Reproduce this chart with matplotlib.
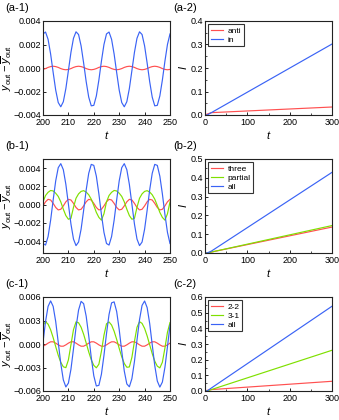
import matplotlib
matplotlib.use("Agg")
import matplotlib.pyplot as plt
from matplotlib.ticker import MultipleLocator

plt.rcParams['font.family'] = ['Liberation Sans', 'DejaVu Sans']
plt.rcParams['mathtext.fontset'] = 'custom'
plt.rcParams['mathtext.rm'] = 'Liberation Sans'
plt.rcParams['mathtext.it'] = 'Liberation Sans:italic'

# ---------------- data (values in units of 1e-3 for the time panels) ----------------
t_osc = list(range(200, 251))

a1_in = [2.90, 3.06, 2.44, 1.19, -0.38, -1.88, -2.94, -3.30, -2.87, -1.75, -0.22, 1.33, 2.53, 3.08, 2.85,
         1.88, 0.42, -1.16, -2.48, -3.22, -3.18, -2.38, -1.02, 0.58, 2.00, 2.90, 3.06, 2.44, 1.19, -0.38,
         -1.88, -2.94, -3.30, -2.87, -1.75, -0.22, 1.33, 2.53, 3.08, 2.85, 1.88, 0.42, -1.16, -2.48, -3.22,
         -3.18, -2.38, -1.02, 0.58, 2.00, 2.90]
a1_anti = [-0.12, -0.05, 0.05, 0.12, 0.15, 0.12, 0.05, -0.05, -0.12, -0.15,
           -0.12, -0.05, 0.05, 0.12, 0.15, 0.12, 0.05, -0.05, -0.12, -0.15,
           -0.12, -0.05, 0.05, 0.12, 0.15, 0.12, 0.05, -0.05, -0.12, -0.15,
           -0.12, -0.05, 0.05, 0.12, 0.15, 0.12, 0.05, -0.05, -0.12, -0.15,
           -0.12, -0.05, 0.05, 0.12, 0.15, 0.12, 0.05, -0.05, -0.12, -0.15, -0.12]

b1_all = [-4.26, -4.43, -3.50, -1.71, 0.51, 2.60, 4.05, 4.49, 3.83, 2.22, 0.05, -2.12, -3.77, -4.49, -4.10,
          -2.69, -0.62, 1.61, 3.43, 4.41, 4.30, 3.12, 1.17, -1.07, -3.04, -4.26, -4.43, -3.50, -1.71, 0.51,
          2.60, 4.05, 4.49, 3.83, 2.22, 0.05, -2.12, -3.77, -4.49, -4.10, -2.69, -0.62, 1.61, 3.43, 4.41,
          4.30, 3.12, 1.17, -1.07, -3.04, -4.26]
b1_partial = [0.30, 1.00, 1.35, 1.55, 1.50, 1.25, 0.90, 0.30, -0.50, -1.20, -1.60, -1.50, -0.30, 0.70, 1.18,
              1.45, 1.53, 1.38, 1.08, 0.60, -0.10, -0.85, -1.40, -1.70, -1.00, 0.30, 1.00, 1.35, 1.55, 1.50,
              1.25, 0.90, 0.30, -0.50, -1.20, -1.60, -1.50, -0.30, 0.70, 1.18, 1.45, 1.53, 1.38, 1.08, 0.60,
              -0.10, -0.85, -1.40, -1.70, -1.00, 0.30]
b1_three = [-0.14, 0.31, 0.58, 0.51, 0.14, -0.31, -0.58, -0.51,
            -0.14, 0.31, 0.58, 0.51, 0.14, -0.31, -0.58, -0.51,
            -0.14, 0.31, 0.58, 0.51, 0.14, -0.31, -0.58, -0.51,
            -0.14, 0.31, 0.58, 0.51, 0.14, -0.31, -0.58, -0.51,
            -0.14, 0.31, 0.58, 0.51, 0.14, -0.31, -0.58, -0.51,
            -0.14, 0.31, 0.58, 0.51, 0.14, -0.31, -0.58, -0.51,
            -0.14, 0.31, 0.58]

c1_all = [0.21, 2.87, 4.80, 5.50, 4.80, 2.87, 0.21, -2.50, -4.58, -5.48, -4.99, -3.23, -0.63, 2.12, 4.33,
          5.44, 5.15, 3.55, 1.05, -1.73, -4.06, -5.36, -5.28, -3.86, -1.45, 1.32, 3.77, 5.25, 5.38, 4.15,
          1.85, -0.92, -3.45, -5.10, -5.46, -4.42, -2.24, 0.50, 3.11, 4.93, 5.49, 4.65, 2.62, -0.08, -2.76,
          -4.73, -5.50, -4.86, -2.98, -0.35, 2.39]
c1_31 = [2.38, 2.84, 2.53, 1.82, 0.81, -0.33, -1.44, -2.34, -2.91, -3.02, -2.03, -0.10, 1.83, 2.82, 2.71,
         2.14, 1.24, 0.13, -1.01, -2.02, -2.73, -3.04, -2.58, -0.93, 1.12, 2.58, 2.81, 2.42, 1.63, 0.59,
         -0.56, -1.64, -2.49, -2.97, -2.93, -1.70, 0.32, 2.13, 2.85, 2.63, 1.99, 1.03, -0.10, -1.23, -2.19,
         -2.83, -3.05, -2.33, -0.52, 1.50, 2.73]
c1_22 = [-0.28, -0.11, 0.11, 0.28, 0.28, 0.11, -0.11, -0.28,
         -0.28, -0.11, 0.11, 0.28, 0.28, 0.11, -0.11, -0.28,
         -0.28, -0.11, 0.11, 0.28, 0.28, 0.11, -0.11, -0.28,
         -0.28, -0.11, 0.11, 0.28, 0.28, 0.11, -0.11, -0.28,
         -0.28, -0.11, 0.11, 0.28, 0.28, 0.11, -0.11, -0.28,
         -0.28, -0.11, 0.11, 0.28, 0.28, 0.11, -0.11, -0.28,
         -0.28, -0.11, 0.11]

t_I = [0, 5, 15, 300]
a2_anti = [0.0, 0.004, 0.010, 0.034]
a2_in = [0.0, 0.0, 0.010, 0.302]
b2_three = [0.0, 0.0, 0.005, 0.138]
b2_partial = [0.0, 0.0, 0.005, 0.146]
b2_all = [0.0, 0.0, 0.010, 0.429]
c2_22 = [0.0, 0.004, 0.009, 0.062]
c2_31 = [0.0, 0.0, 0.009, 0.260]
c2_all = [0.0, 0.0, 0.019, 0.541]

RED = '#ff5050'
GREEN = '#7fe000'
BLUE = '#3a63f5'

fig = plt.figure(figsize=(3.39, 4.2), dpi=100)
W, H = 339, 420

def add_ax(x0, y0, x1, y1):
    return fig.add_axes([x0 / W, 1 - y1 / H, (x1 - x0) / W, (y1 - y0) / H])

rows = [(21, 115), (159, 253), (297, 391)]
FS = 6.5

def style(ax):
    for s in ax.spines.values():
        s.set_linewidth(0.8)
        s.set_color('#222222')
    ax.tick_params(direction='in', length=2.5, width=0.6, labelsize=FS, pad=1.5)
    ax.tick_params(axis='x', pad=2.5)
    ax.tick_params(which='minor', direction='in', length=1.5, width=0.5)

ylabel = r'$y_{\mathrm{out}} - \overline{y}_{\mathrm{out}}$'
osc = [
    ('(a-1)', [(a1_anti, RED), (a1_in, BLUE)], (-4, 4), 2),
    ('(b-1)', [(b1_three, RED), (b1_partial, GREEN), (b1_all, BLUE)], (-5.3, 5.0), 2),
    ('(c-1)', [(c1_22, RED), (c1_31, GREEN), (c1_all, BLUE)], (-6, 6), 3),
]
lin = [
    ('(a-2)', [(a2_anti, RED, 'anti'), (a2_in, BLUE, 'in')], 0.4),
    ('(b-2)', [(b2_three, RED, 'three'), (b2_partial, GREEN, 'partial'), (b2_all, BLUE, 'all')], 0.5),
    ('(c-2)', [(c2_22, RED, '2-2'), (c2_31, GREEN, '3-1'), (c2_all, BLUE, 'all')], 0.6),
]

for (y0, y1), (lab, series, ylim, step) in zip(rows, osc):
    ax = add_ax(43, y0, 170, y1)
    for vals, col in series:
        ax.plot(t_osc, [v * 1e-3 for v in vals], color=col, lw=0.85)
    ax.set_xlim(200, 250)
    ax.set_ylim(ylim[0] * 1e-3, ylim[1] * 1e-3)
    ax.xaxis.set_major_locator(MultipleLocator(10))
    ax.yaxis.set_major_locator(MultipleLocator(step * 1e-3))
    ax.yaxis.set_major_formatter(matplotlib.ticker.FuncFormatter(
        lambda v, p: ('%.3f' % v).replace('-', '\u2212') if abs(v) > 1e-9 else '0.000'))
    style(ax)
    ax.set_xlabel(r'$t$', fontsize=8, labelpad=1)
    ax.set_ylabel(ylabel, fontsize=8)
    ax.yaxis.set_label_coords(-0.228, 0.5)
    fig.text(5 / W, 1 - (y0 - 13) / H, lab, fontsize=8, va='center', ha='left')

for (y0, y1), (lab, series, ymax) in zip(rows, lin):
    ax = add_ax(205, y0, 332, y1)
    for vals, col, name in series:
        ax.plot(t_I, vals, color=col, lw=0.85, label=name)
    ax.set_xlim(0, 300)
    ax.set_ylim(0, ymax)
    ax.xaxis.set_major_locator(MultipleLocator(100))
    ax.xaxis.set_minor_locator(MultipleLocator(50))
    ax.yaxis.set_major_locator(MultipleLocator(0.1))
    ax.yaxis.set_minor_locator(MultipleLocator(0.05))
    ax.yaxis.set_major_formatter(matplotlib.ticker.FormatStrFormatter('%.1f'))
    style(ax)
    ax.set_xlabel(r'$t$', fontsize=8, labelpad=1)
    ax.set_ylabel(r'$I$', fontsize=8)
    ax.yaxis.set_label_coords(-0.126, 0.5)
    leg = ax.legend(loc='upper left', fontsize=6, frameon=True, fancybox=False,
                    handlelength=1.5, handletextpad=0.5, borderpad=0.3, labelspacing=0.15,
                    borderaxespad=0.4)
    leg.get_frame().set_edgecolor('black')
    leg.get_frame().set_linewidth(0.8)
    fig.text(173 / W, 1 - (y0 - 13) / H, lab, fontsize=8, va='center', ha='left')

fig.savefig('out.png', dpi=100)
